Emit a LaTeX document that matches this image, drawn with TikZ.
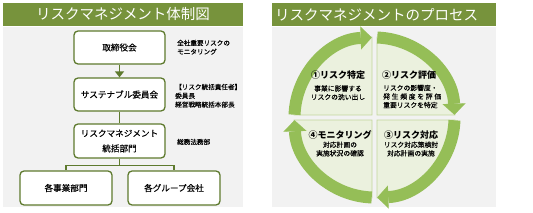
\documentclass[tikz,border=0pt]{standalone}
\usepackage{fontspec}
\setmainfont{Noto Sans CJK JP}
\newfontfamily\jpdark{Noto Sans CJK JP}[FakeBold=0.35]
\newfontfamily\jpsemi{Noto Sans CJK JP}[FakeBold=0.18]
\usepackage{xcolor}
\usepackage{tikz}
\usetikzlibrary{arrows.meta,positioning}
\definecolor{headgreen}{HTML}{77933C}
\definecolor{boxline}{HTML}{5E7A2E}
\definecolor{panelgray}{HTML}{F2F2F2}
\definecolor{ringgreen}{HTML}{95BE57}
\definecolor{quadfill}{HTML}{EBF1DE}
\definecolor{quadline}{HTML}{C3D69B}

\begin{document}
\begin{tikzpicture}[x=1pt,y=1pt,
    orgbox/.style={draw=boxline,line width=1.3pt,rounded corners=4pt,fill=white,
        minimum width=91pt,minimum height=33pt,inner sep=0pt,align=center,
        font=\jpdark\fontsize{8.6}{15}\selectfont},
    note/.style={anchor=north west,inner sep=0pt,align=left,
        font=\jpsemi\fontsize{6.6}{8.8}\selectfont},
    headtext/.style={text=white,inner sep=0pt,font=\fontsize{14.5}{16}\selectfont},
    link/.style={draw=boxline,line width=1.3pt},
    ring/.style={draw=ringgreen,line width=12pt,
        -{Triangle[length=11pt,width=23pt,line width=0.1pt]}},
    steptitle/.style={inner sep=0pt,font=\bfseries\fontsize{9}{10}\selectfont},
    stepnote/.style={inner sep=0pt,align=center,font=\jpsemi\fontsize{6.8}{8.6}\selectfont}]
    \def\cx{374.5}
    \def\cy{94.5}
    \def\qrad{78}
    \def\rrad{80}

    \useasboundingbox (0,0) rectangle (533,212);
    \fill[headgreen] (3,186) rectangle (243,209);
    \fill[panelgray] (3,5) rectangle (243,185);
    \fill[headgreen] (272,186) rectangle (496,209);
    \fill[panelgray] (272,5) rectangle (496,185);
    \node[headtext] (orghead) at (123,197.5) {リスクマネジメント体制図};
    \node[headtext,anchor=west] (prochead) at (275,197.5) {リスクマネジメントのプロセス};

    \node[orgbox] (board) at (119.5,164.5) {取締役会};
    \node[orgbox] (committee) at (119.5,117.5) {サステナブル委員会};
    \node[orgbox,minimum height=34pt] (rmdept) at (119.5,71) {リスクマネジメント\\統括部門};
    \node[orgbox,minimum width=92pt,minimum height=34pt] (business) at (66,24) {各事業部門};
    \node[orgbox,minimum width=92pt,minimum height=34pt] (group) at (174,24) {各グループ会社};

    \draw[link,-{Triangle[length=6pt,width=9pt]}] (board) -- (committee);
    \draw[link] (committee) -- (rmdept);
    \draw[link] (rmdept.south) -- ++(0,-7) coordinate (fork) -| (business.north);
    \draw[link] (fork) -| (group.north);

    \node[note] (boardnote) at (177,172.3) {全社重要リスクの\\モニタリング};
    \node[note] (committeenote) at (175,128.3) {【リスク統括責任者】\\委員長\\経営戦略統括本部長};
    \node[note] (rmnote) at (177,73.3) {総務法務部};

    \foreach \a in {0,90,180,270} {
        \filldraw[fill=quadfill,draw=quadline,line width=0.8pt,
            shift={(\cx,\cy)},shift={({\a+45}:3.54)}]
            (0,0) -- (\a:\qrad) arc[start angle=\a,end angle={\a+90},radius=\qrad] -- cycle;
    }
    \foreach \s/\e in {178/92,88/2,-2/-88,-92/-178} {
        \draw[ring] ([shift={(\s:\rrad)}]\cx,\cy)
            arc[start angle=\s,end angle=\e,radius=\rrad];
    }

    \node[steptitle] (identify) at (338,137) {①リスク特定};
    \node[stepnote] (identifynote) at (338,119.25) {事業に影響する\\リスクの洗い出し};
    \node[steptitle] (assess) at (409,137) {②リスク評価};
    \node[stepnote,align=left,text width=58pt,anchor=west] (assessnote) at (383,115.5)
        {リスクの影響度・\\
         \makebox[\linewidth][s]{発\hfil 生\hfil 頻\hfil 度\hfil を\hfil 評\hfil 価}\\
         重要リスクを特定};
    \node[steptitle] (respond) at (411,77) {③リスク対応};
    \node[stepnote] (respondnote) at (411,63) {リスク対応策検討\\対応計画の実施};
    \node[steptitle] (monitor) at (340,77) {④モニタリング};
    \node[stepnote] (monitornote) at (340,63) {対応計画の\\実施状況の確認};
\end{tikzpicture}
\end{document}
